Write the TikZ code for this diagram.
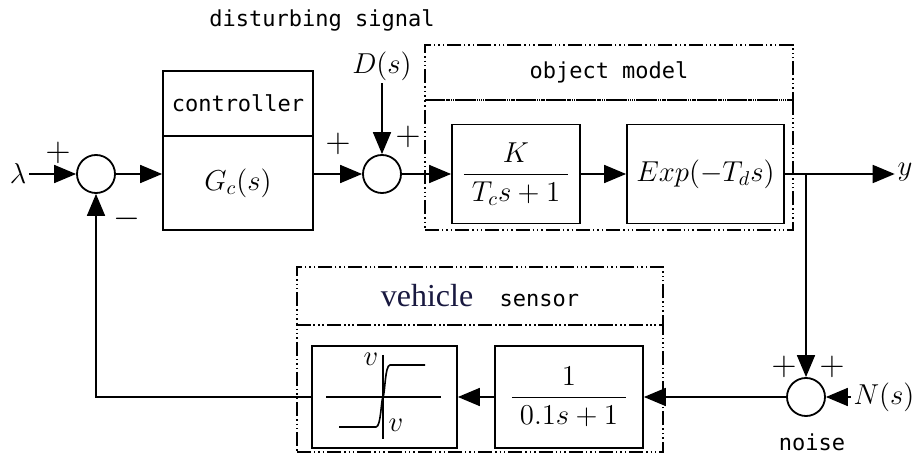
\documentclass[tikz,border=0pt]{standalone}
\usepackage{amsmath}
\usepackage{fontspec}
\newfontfamily\timesfont{Liberation Serif}
\newfontfamily\labelfont{DejaVu Sans Mono}
\usetikzlibrary{positioning,arrows.meta}

\begin{document}
\begin{tikzpicture}[x=0.5pt,y=-0.5pt,line width=0.9pt,
    >={Triangle[length=11pt,width=9pt]},
    block/.style={draw,rectangle,inner sep=0pt,font=\fontsize{14.5}{17}\selectfont},
    sum node/.style={draw,circle,minimum size=19pt,inner sep=0pt},
    signal/.style={inner sep=1pt,font=\fontsize{14.5}{17}\selectfont},
    label text/.style={inner sep=0pt,font=\fontsize{11}{13}\labelfont},
    sign/.style={inner sep=0pt,font=\fontsize{17}{18}\selectfont},
    group/.style={draw,rectangle,inner sep=0pt,line width=0.6pt,
      dash pattern=on 7pt off 1.5pt on 0.7pt off 1.5pt on 0.7pt off 1.5pt on 0.7pt off 1.5pt}]

  \useasboundingbox (0,0) rectangle (917,454);

  % dotted groups
  \node[group,minimum width=184pt,minimum height=27.5pt,label text] (planttitle) at (609,72.5) {object model};
  \node[group,minimum width=184pt,minimum height=65pt] (plant) at (609,165) {};
  \node[group,minimum width=183pt,minimum height=29pt,label text] (sensortitle) at (480,296)
    {{\timesfont\fontsize{16}{17}\selectfont\color[rgb]{0.1,0.1,0.25}vehicle}\ \ sensor};
  \node[group,minimum width=183pt,minimum height=63.5pt] (sensor) at (480,388.5) {};

  % forward path
  \node[signal] (lam) at (18,174) {$\lambda$};
  \node[sum node] (s1) at (96,174) {};
  \node[block,minimum width=75pt,minimum height=32.5pt,label text] (ctrltitle) at (238,103.5) {controller};
  \node[block,minimum width=75pt,minimum height=47pt] (ctrl) at (238,183) {$G_c(s)$};
  \node[sum node] (s2) at (382,174) {};
  \node[signal] (dist) at (382,66) {$D(s)$};
  \node[label text] (disttext) at (322,20) {disturbing signal};
  \node[block,minimum width=64pt,minimum height=49.5pt] (gain) at (516,174) {$\dfrac{K}{\;T_c s+1\;}$};
  \node[block,minimum width=78.5pt,minimum height=49.5pt] (delay) at (705.5,174) {$Exp(-T_d s)$};
  \coordinate (br) at (806,174);
  \node[signal] (out) at (905,172) {$y$};

  % feedback path
  \node[sum node] (s3) at (806,397) {};
  \node[signal] (noisein) at (884,397) {$N(s)$};
  \node[label text] (noisetext) at (812,442) {noise};
  \node[block,minimum width=74pt,minimum height=51pt] (filt) at (569,397) {$\dfrac{1}{\;0.1s+1\;}$};
  \node[block,minimum width=72.5pt,minimum height=51pt] (sat) at (384.5,397) {};

  % saturation curve
  \draw[line width=0.8pt] (326,397) -- (441,397) (383,355) -- (383,439);
  \draw[line width=0.8pt] (339,427) -- (376,427) .. controls (381,427) and (381,400) .. (383,397)
    .. controls (385,394) and (385,365) .. (390,365) -- (425,365);
  \node[signal] (vup) at (371,359) {$v$};
  \node[signal] (vdown) at (396,425) {$v$};

  % signs
  \node[sign] (p1) at (58,153) {$+$};
  \node[sign] (m1) at (127,219) {$-$};
  \node[sign] (p2) at (338,144) {$+$};
  \node[sign] (p3) at (408,137) {$+$};
  \node[sign] (p4) at (784,367) {$+$};
  \node[sign] (p5) at (832,367) {$+$};

  \draw[->] (lam) -- (s1);
  \draw[->] (s1) -- (s1 -| ctrl.west);
  \draw[->] (s1 -| ctrl.east) -- (s2);
  \draw[->] (dist) -- (s2);
  \draw[->] (s2) -- (gain);
  \draw[->] (gain) -- (delay);
  \draw (delay) -- (br);
  \draw[->] (br) -- (br -| out.west);
  \draw[->] (br) -- (s3);
  \draw[->] (noisein) -- (s3);
  \draw[->] (s3) -- (filt);
  \draw[->] (filt) -- (sat);
  \draw[->] (sat.west) -| (s1.south);
\end{tikzpicture}
\end{document}
